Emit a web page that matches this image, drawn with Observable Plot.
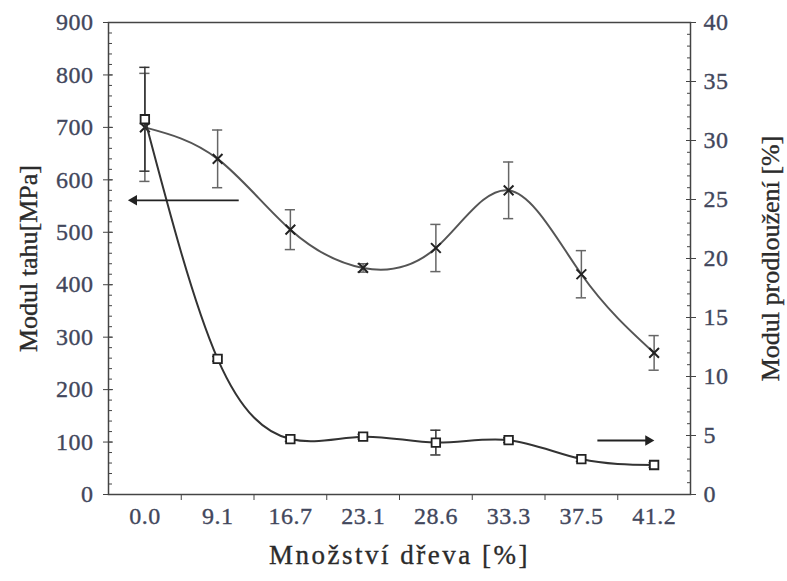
<!DOCTYPE html>
<html>
<head>
<meta charset="utf-8">
<script src="https://cdn.jsdelivr.net/npm/d3@7"></script>
<script src="https://cdn.jsdelivr.net/npm/@observablehq/plot@0.6"></script>
<style>
  html, body { margin: 0; padding: 0; background: #fff; }
  #chart svg { display: block; }
</style>
</head>
<body>
<div id="chart"></div>
<script>
// ---- data ----
const categories = ["0.0", "9.1", "16.7", "23.1", "28.6", "33.3", "37.5", "41.2"];
const tensile = [700, 640, 505, 432, 470, 580, 420, 270];          // Modul tahu [MPa] (left axis)
const tensileErr = [103, 55, 38, 8, 45, 54, 45, 33];
const elong = [31.8, 11.5, 4.7, 4.9, 4.4, 4.6, 3.0, 2.5];          // Modul prodloužení [%] (right axis)
const elongErr = [4.4, 0.2, 0.2, 0.2, 1.05, 0.2, 0.2, 0.2];
const leftTicks = [0, 100, 200, 300, 400, 500, 600, 700, 800, 900];
const rightTicks = [0, 5, 10, 15, 20, 25, 30, 35, 40];
const xTitle = "Množství dřeva [%]";
const leftTitle = "Modul tahu[MPa]";
const rightTitle = "Modul prodloužení [%]";
// annotation arrows: x in category index units, y in left-axis units
const arrows = [
  {x1: 1.29, x2: -0.15, y: 561, dir: "left"},
  {x1: 6.22, x2: 6.92, y: 103, dir: "right"}
];

const k = 900 / 40; // right-axis to left-axis factor
const rows = categories.map((c, i) => ({
  i, c,
  t: tensile[i], te: tensileErr[i],
  e: elong[i] * k, ee: elongErr[i] * k
}));

const labelColor = "#42475c";
const titleColor = "#2b2b2b";
const lineColor = "#333";
const tickFont = 24;

const chart = Plot.plot({
  width: 787,
  height: 581,
  marginLeft: 108,
  marginRight: 97,
  marginTop: 22,
  marginBottom: 87,
  x: {type: "linear", domain: [-0.5, 7.5]},
  y: {domain: [0, 900]},
  style: {fontFamily: "'Liberation Serif', 'Times New Roman', serif", fontSize: "24px", color: labelColor, background: "white"},
  marks: [
    Plot.frame({stroke: "#444", strokeWidth: 1.5}),
    // left axis
    Plot.axisY(leftTicks, {anchor: "left", tickSize: 5, tickPadding: 10, label: null, stroke: "#444", fill: labelColor, fontSize: tickFont}),
    Plot.axisY(leftTicks, {anchor: "left", tickSize: -5, text: null, label: null, stroke: "#444"}),
    Plot.axisY(d3.range(0, 901, 20), {anchor: "left", tickSize: -4, text: null, label: null, stroke: "#444"}),
    // right axis
    Plot.axisY(rightTicks.map(v => v * k), {anchor: "right", tickSize: 5, tickPadding: 8, tickFormat: d => String(Math.round(d / k)), label: null, stroke: "#444", fill: labelColor, fontSize: tickFont}),
    Plot.axisY(rightTicks.map(v => v * k), {anchor: "right", tickSize: -5, text: null, label: null, stroke: "#444"}),
    Plot.axisY(d3.range(0, 41, 1).map(v => v * k), {anchor: "right", tickSize: -4, text: null, label: null, stroke: "#444"}),
    // x axis
    Plot.axisX(d3.range(0.5, 7, 1), {anchor: "bottom", tickSize: 6, text: null, label: null, stroke: "#444"}),
    Plot.axisX(d3.range(0, 8), {anchor: "bottom", tickSize: 0, tickPadding: 12, tickFormat: i => categories[i], label: null, fill: labelColor, fontSize: tickFont}),
    // titles
    Plot.text([xTitle], {frameAnchor: "bottom", dy: 69, fontSize: 27, fill: titleColor, textAnchor: "middle"}),
    Plot.text([leftTitle], {frameAnchor: "left", dx: -80, rotate: -90, fontSize: 26, fill: titleColor, textAnchor: "middle"}),
    Plot.text([rightTitle], {frameAnchor: "right", dx: 80, rotate: -90, fontSize: 26, fill: titleColor, textAnchor: "middle"}),
    // tensile modulus series (x markers)
    Plot.line(rows, {x: "i", y: "t", curve: "natural", stroke: "#555", strokeWidth: 2}),
    Plot.ruleX(rows, {x: "i", y1: d => d.t - d.te, y2: d => d.t + d.te, stroke: "#666", strokeWidth: 1.5}),
    Plot.ruleY(rows, {y: d => d.t + d.te, x1: d => d.i - 0.07, x2: d => d.i + 0.07, stroke: "#666", strokeWidth: 1.5}),
    Plot.ruleY(rows, {y: d => d.t - d.te, x1: d => d.i - 0.07, x2: d => d.i + 0.07, stroke: "#666", strokeWidth: 1.5}),
    Plot.dot(rows, {x: "i", y: "t", symbol: "times", r: 4.5, stroke: "#222", strokeWidth: 2}),
    // elongation series (square markers)
    Plot.line(rows, {x: "i", y: "e", curve: "natural", stroke: lineColor, strokeWidth: 2}),
    Plot.ruleX(rows, {x: "i", y1: d => d.e - d.ee, y2: d => d.e + d.ee, stroke: "#333", strokeWidth: 1.5}),
    Plot.ruleY(rows, {y: d => d.e + d.ee, x1: d => d.i - 0.07, x2: d => d.i + 0.07, stroke: "#333", strokeWidth: 1.5}),
    Plot.ruleY(rows, {y: d => d.e - d.ee, x1: d => d.i - 0.07, x2: d => d.i + 0.07, stroke: "#333", strokeWidth: 1.5}),
    Plot.dot(rows, {x: "i", y: "e", symbol: "square", r: 4.8, fill: "white", stroke: "#222", strokeWidth: 1.8}),
    // annotation arrows
    Plot.link(arrows, {x1: "x1", x2: "x2", y1: "y", y2: "y", stroke: "#222", strokeWidth: 1.8}),
    Plot.dot(arrows, {x: "x2", y: "y", symbol: "triangle2", r: 5, fill: "#222", rotate: d => d.dir === "left" ? -90 : 90})
  ]
});

document.getElementById("chart").appendChild(chart);

// widen / thicken lettering a little to match the reference's heavy, stretched type
d3.select(chart).selectAll("[aria-label='y-axis tick label'], [aria-label='x-axis tick label']")
  .attr("letter-spacing", "0.5px").attr("stroke", labelColor).attr("stroke-width", 0.35);
d3.select(chart).selectAll("[aria-label='text']").attr("stroke", titleColor).attr("stroke-width", 0.35);
d3.select(chart).selectAll("[aria-label='text'] text").filter(function() { return this.textContent === xTitle; }).attr("letter-spacing", "2.5px");
</script>
</body>
</html>
